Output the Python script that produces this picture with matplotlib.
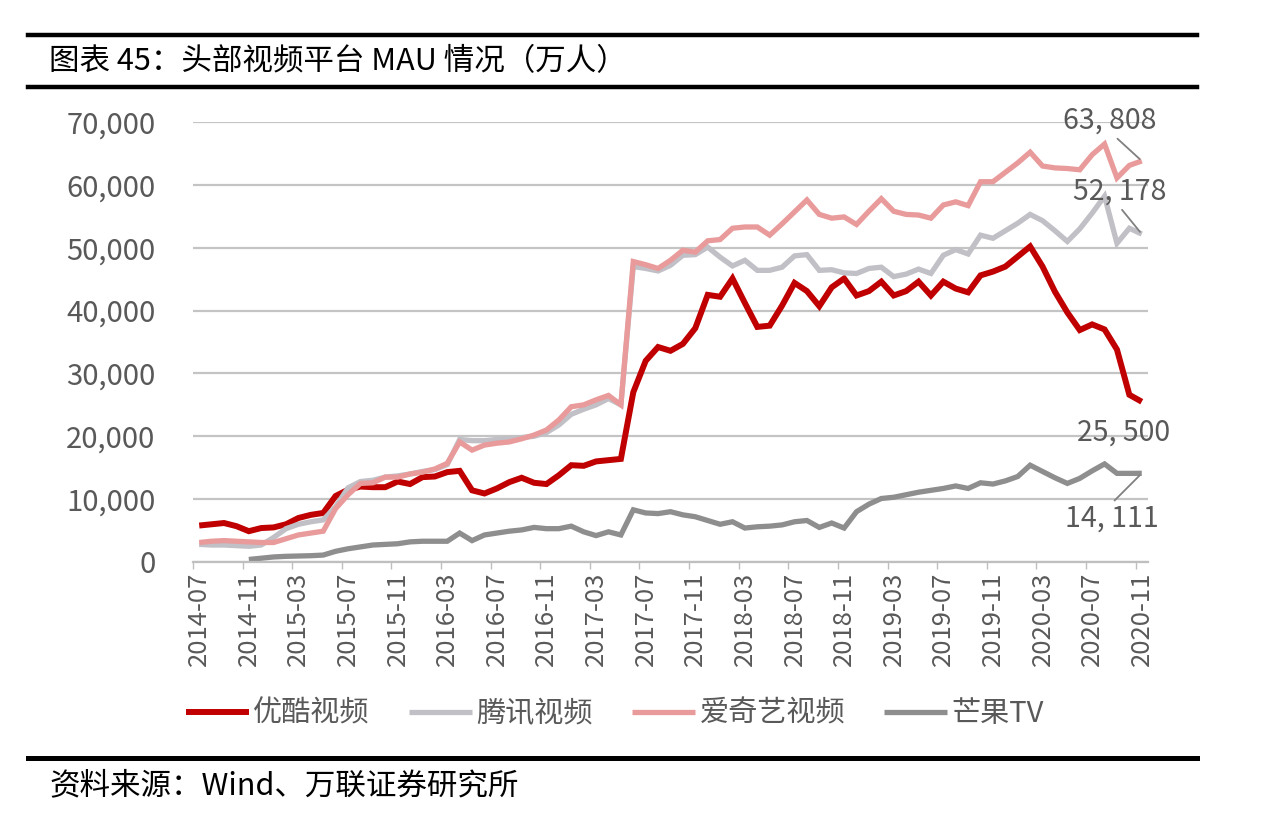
import numpy as np
import pandas as pd
import matplotlib
matplotlib.use('Agg')
import matplotlib.pyplot as plt
from matplotlib.lines import Line2D

plt.rcParams['font.family'] = ['Noto Sans CJK SC', 'DejaVu Sans']

# monthly MAU, 10k users, 2014-07 .. 2020-11
months = pd.period_range('2014-07', '2020-11', freq='M').strftime('%Y-%m').tolist()

youku = [5800, 6000, 6200, 5700, 4900, 5400, 5500, 6000, 7000, 7500,
         7800, 10500, 11500, 12000, 11900, 11900, 12800, 12400, 13500, 13600,
         14300, 14500, 11400, 10900, 11700, 12700, 13400, 12600, 12400, 13800,
         15400, 15300, 16000, 16200, 16400, 27000, 32000, 34200, 33600, 34700,
         37200, 42500, 42200, 45100, 41200, 37400, 37600, 40800, 44400, 43100,
         40700, 43700, 45100, 42400, 43100, 44600, 42400, 43100, 44600, 42400,
         44600, 43500, 42900, 45600, 46200, 47000, 48600, 50200, 47000, 43000,
         39700, 36900, 37800, 37000, 33800, 26600, 25500]

tencent = [2800, 2700, 2700, 2600, 2500, 2700, 3900, 5300, 6000, 6400,
           6700, 8800, 11800, 12800, 13000, 13500, 13700, 14000, 14400, 14700,
           15500, 19500, 19300, 19300, 19500, 19600, 19800, 20000, 20600, 21800,
           23500, 24300, 25000, 26000, 25000, 47000, 46700, 46300, 47200, 48800,
           48900, 50100, 48500, 47100, 48000, 46400, 46400, 46900, 48700, 48900,
           46400, 46500, 46000, 45900, 46700, 46900, 45400, 45800, 46600, 45900,
           48800, 49700, 49000, 52000, 51500, 52700, 53900, 55300, 54300, 52700,
           51000, 53000, 55500, 58200, 50700, 53100, 52178]

iqiyi = [3100, 3300, 3400, 3300, 3200, 3100, 3100, 3700, 4300, 4600,
         4900, 8500, 10700, 12500, 12600, 13500, 13500, 14000, 14300, 14800,
         15700, 19100, 17800, 18600, 18900, 19100, 19600, 20200, 21000, 22600,
         24700, 25000, 25800, 26500, 25000, 47800, 47300, 46700, 48000, 49600,
         49300, 51100, 51300, 53100, 53300, 53300, 52000, 53800, 55700, 57600,
         55300, 54700, 54900, 53700, 55800, 57800, 55800, 55300, 55200, 54700,
         56800, 57300, 56700, 60500, 60500, 62000, 63500, 65200, 63000, 62700,
         62600, 62400, 64800, 66500, 61100, 63100, 63808]

mango = [None, None, None, None, 400, 600, 800, 900, 950, 1000,
         1100, 1700, 2100, 2400, 2700, 2800, 2900, 3200, 3300, 3300,
         3300, 4600, 3400, 4300, 4600, 4900, 5100, 5500, 5300, 5300,
         5700, 4800, 4200, 4800, 4300, 8300, 7800, 7700, 8000, 7500,
         7200, 6600, 6000, 6400, 5400, 5600, 5700, 5900, 6400, 6600,
         5500, 6200, 5400, 8000, 9200, 10100, 10300, 10700, 11100, 11400,
         11700, 12100, 11700, 12600, 12400, 12900, 13600, 15400, 14400, 13400,
         12500, 13300, 14500, 15600, 14100, 14100, 14111]

names = ['优酷视频', '腾讯视频', '爱奇艺视频', '芒果TV']
colors = ['#C00000', '#C0C0C6', '#E99A9B', '#8E8E8E']
widths = [4.3, 3.8, 3.8, 3.8]

fig = plt.figure(figsize=(12.64, 8.14), dpi=100)
ax = fig.add_axes([0.1527, 0.3096, 0.7555, 0.5405])

x = np.arange(len(months))
series = [youku, tencent, iqiyi, mango]
for vals, name, c, lw in zip(series, names, colors, widths):
    y = np.array([np.nan if v is None else v for v in vals], dtype=float)
    ax.plot(x, y, color=c, lw=lw, label=name, solid_joinstyle='miter',
            solid_capstyle='butt')

ax.set_xlim(-0.5, len(months) - 0.5)
ax.set_ylim(0, 70000)
ax.set_yticks(np.arange(0, 70001, 10000))
ax.yaxis.set_major_formatter(plt.FuncFormatter(lambda v, p: f'{v:,.0f}'))
ax.grid(axis='y', color='#C4C4C4', lw=1.6)
ax.set_axisbelow(True)
for s in ['top', 'right', 'left']:
    ax.spines[s].set_visible(False)
ax.spines['bottom'].set_color('#BFBFBF')
ax.spines['bottom'].set_linewidth(1.6)

ax.set_xticks(x[::4])
ax.set_xticklabels(months[::4], rotation=90)
ax.set_xticks(np.arange(-0.5, len(months), 4), minor=True)
ax.tick_params(axis='x', which='major', length=0, pad=7, labelsize=18.5,
               labelcolor='#595959')
ax.tick_params(axis='x', which='minor', length=5, color='#BFBFBF', width=1)
ax.tick_params(axis='y', length=0, pad=27, labelsize=21, labelcolor='#595959')

# end-of-line value labels: (value, text offset px, leader start in text box)
last = len(months) - 1
ends = [(iqiyi[-1], (-32, 40), (0.55, 0)), (tencent[-1], (-22, 42), (0.5, 0)),
        (youku[-1], (-18, -31), None), (mango[-1], (-30, -45), (0.5, 1))]
for val, off, rp in ends:
    txt = f'{val:,}'.replace(',', ', ')
    ap = None
    if rp is not None:
        ap = dict(arrowstyle='-', color='#808080', lw=1.3, shrinkA=0, shrinkB=2,
                  relpos=rp)
    ax.annotate(txt, xy=(last, val), xytext=off, textcoords='offset pixels',
                ha='center', va='center', fontsize=20.5, color='#595959',
                arrowprops=ap, annotation_clip=False)

fig.legend(loc='center', bbox_to_anchor=(0.4866, 0.1229), ncol=4, frameon=False,
           fontsize=21, handlelength=2.15, handletextpad=0.15, columnspacing=1.35,
           labelcolor='#595959')

# header / footer rules
for yy, lw in [(0.957, 3.2), (0.893, 3.2), (0.069, 3.6)]:
    fig.add_artist(Line2D([0.022, 0.947], [yy, yy], color='black', lw=lw,
                          transform=fig.transFigure))

fig.text(0.039, 0.924, '图表 45：头部视频平台 MAU 情况（万人）', fontsize=22,
         va='center', ha='left', color='black')
fig.text(0.039, 0.035, '资料来源：Wind、万联证券研究所', fontsize=22,
         va='center', ha='left', color='black', style='italic')

fig.savefig('out.png', dpi=100, facecolor='white')
